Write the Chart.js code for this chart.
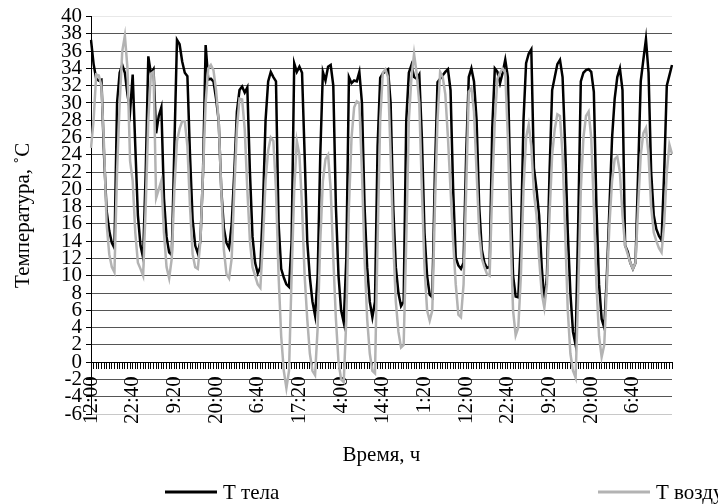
<!DOCTYPE html>
<html>
<head>
<meta charset="utf-8">
<script src="https://cdn.jsdelivr.net/npm/chart.js@4"></script>
<style>
  html, body { margin: 0; background: #fff; }
  #wrap { width: 718px; height: 504px; }
</style>
</head>
<body>
<div id="wrap"><canvas id="chart" width="718" height="504"></canvas></div>
<script>
// readings every 40 min, a tick label every 16th reading
const labelStep = 16;
const tickLabels = ['12:00', '22:40', '9:20', '20:00', '6:40', '17:20', '4:00',
  '14:40', '1:20', '12:00', '22:40', '9:20', '20:00', '6:40'];

const tBody = [
  37.3, 34.5, 32.8, 32.6, 32.7, 24, 17.5, 15.2, 13.8, 13.2,
  30, 33.5, 34.4, 33.5, 31, 29, 33.3, 25, 17, 13.5,
  12.1, 22, 35.4, 33.4, 33.9, 26.5, 28.5, 29.5, 19, 14.5,
  12.7, 12.4, 25, 37.3, 36.8, 34.8, 33.5, 33.1, 24, 16.5,
  13.5, 12.6, 14, 22, 36.7, 32.7, 32.8, 32.5, 30.5, 28,
  20, 15.5, 13.8, 13.2, 16, 22, 29, 31.5, 31.9, 31.2,
  31.8, 22, 14.5, 11.5, 10.3, 11, 18, 28, 32.5, 33.6,
  33, 32.5, 16, 10.8, 9.8, 9, 8.7, 14, 34.6, 33.6,
  34.2, 33.5, 24, 14, 9.8, 7, 5.4, 10, 24, 33.6,
  32.6, 34.2, 34.4, 32, 18, 10, 6, 4.6, 12, 33,
  32.3, 32.6, 32.5, 33.6, 30, 18, 11, 7, 5.2, 7,
  25, 32.9, 33.4, 33.7, 33.9, 30, 18, 11, 8, 6.5,
  7, 28, 33.5, 34.4, 33, 32.8, 33.3, 26, 15, 10,
  7.8, 7.5, 22, 32.4, 32.8, 33.2, 33.6, 33.9, 31.5, 20,
  12.1, 11.2, 10.8, 11.5, 24, 33, 34, 32.5, 28, 18,
  13, 11.5, 10.9, 11, 27, 34, 33.6, 32.3, 33.5, 35,
  33, 20, 10, 7.6, 7.5, 14, 28, 34.6, 35.7, 36.2,
  22.5, 20, 17, 11, 7, 10, 22, 31.5, 33, 34.5,
  35, 33, 25, 15, 8, 3.5, 2, 16, 32.5, 33.5,
  33.8, 33.9, 33.6, 31.3, 18, 9, 5, 4, 10, 18,
  26, 30.5, 33, 34, 31.5, 13.5, 12.8, 11.5, 10.8, 11.5,
  22, 32.5, 35, 37.4, 33.5, 22, 17, 15.4, 14.6, 14.1,
  22, 32, 33.2, 34.4
];

const tAir = [
  24.8, 28, 33.3, 33.2, 32, 25, 16, 12.5, 11, 10.4,
  22, 30, 36, 37.8, 34, 23.3, 21, 15, 11.5, 10.8,
  10, 18, 28, 33.4, 33.6, 19, 20, 21, 15, 11,
  9.7, 12, 20, 25.6, 27, 27.9, 27.9, 25, 18, 12.5,
  11, 10.8, 14, 22, 30, 34, 34.4, 33.8, 31.5, 28,
  20, 13, 10.2, 9.7, 12, 20, 27, 30.5, 30.4, 27,
  20, 14, 11, 10, 9, 8.6, 14, 21, 24.5, 26,
  25.6, 20, 10, 3, -1, -3, -1, 10, 20, 25.6,
  24, 18, 10, 5, 1, -1, -1.5, 4, 14, 21,
  23.5, 24, 20, 12, 5, 0, -2, -2.3, 5, 18,
  26, 29.5, 30.2, 30, 22, 12, 5, 1, -1, -1.3,
  14, 28, 33.5, 33.9, 33, 24, 14, 7, 3.5, 1.7,
  2, 14, 28, 33, 35.7, 33.4, 30, 20, 11, 6,
  4.8, 6, 18, 28, 33.6, 33, 31, 26, 20, 14,
  9, 5.5, 5.2, 9, 20, 31.3, 31.7, 29, 22, 15,
  12, 11, 10.2, 10, 20, 28, 32.8, 33.5, 34, 33.5,
  26, 15, 6, 3.1, 4, 10, 20, 26, 27.5, 25,
  19.6, 17, 12, 8, 6.3, 9, 17, 24, 27, 28.7,
  28.5, 24, 15, 6, 1, -1, -1.8, 8, 20, 26,
  28.5, 29, 26, 18, 9, 3, 0.6, 2, 9, 16,
  21, 23.5, 23.8, 22, 17, 13.5, 12.5, 11.5, 10.8, 11.5,
  18, 24, 26.5, 27.1, 24, 18, 15, 14, 13.2, 12.7,
  16, 22, 25.2, 24.1
];

const categories = tBody.map((v, i) => i);
const serif = 'Liberation Serif';

// x title and legend sit under the chart, legend runs off the right edge like the original
const bottomTexts = {
  id: 'bottomTexts',
  afterDraw(chart) {
    const { ctx, chartArea } = chart;
    ctx.save();
    ctx.font = '21px "' + serif + '"';
    ctx.fillStyle = '#000';
    ctx.textBaseline = 'middle';
    ctx.textAlign = 'center';
    ctx.fillText('Время, ч', (chartArea.left + chartArea.right) / 2, 455);
    ctx.textAlign = 'left';
    [[0, 165], [1, 598]].forEach(([k, x]) => {
      const ds = chart.data.datasets[k];
      ctx.strokeStyle = ds.borderColor;
      ctx.lineWidth = 3;
      ctx.beginPath();
      ctx.moveTo(x, 492);
      ctx.lineTo(x + 52, 492);
      ctx.stroke();
      ctx.fillText(ds.label, x + 58, 493);
    });
    ctx.restore();
  }
};

const ctx = document.getElementById('chart').getContext('2d');
const chart = new Chart(ctx, {
  type: 'line',
  data: {
    labels: categories,
    datasets: [
      { label: 'Т тела', data: tBody, borderColor: '#000', borderWidth: 2.5, pointRadius: 0, order: 1 },
      { label: 'Т воздуха', data: tAir, borderColor: '#b3b3b3', borderWidth: 2.5, pointRadius: 0, order: 0 }
    ]
  },
  options: {
    responsive: false,
    animation: false,
    devicePixelRatio: 1,
    layout: { padding: { top: 15, right: 46, bottom: 90, left: 0 } },
    plugins: { legend: { display: false }, tooltip: { enabled: false } },
    scales: {
      x: {
        position: { y: 0 },
        offset: false,
        grid: { drawOnChartArea: false, drawTicks: true, tickLength: 6, color: '#000' },
        border: { display: true, color: '#000', width: 1 },
        ticks: {
          autoSkip: false,
          minRotation: 90,
          maxRotation: 90,
          padding: 8,
          color: '#000',
          font: { family: serif, size: 21 },
          callback: (v, i) => (i % labelStep === 0 ? tickLabels[i / labelStep] : '')
        }
      },
      y: {
        min: -6,
        max: 40,
        ticks: { stepSize: 2, autoSkip: false, padding: 4, color: '#000', font: { family: serif, size: 21 } },
        grid: {
          color: c => (c.tick.value === 40 ? '#e8e8e8' : c.tick.value === -6 ? '#c8c8c8' : c.tick.value === 0 ? '#000' : '#555'),
          tickColor: '#000',
          tickLength: 5
        },
        border: { display: true, color: '#000' },
        title: {
          display: true,
          text: 'Температура, ˚С',
          color: '#000',
          font: { family: serif, size: 21 },
          padding: { top: 11, bottom: 0 }
        },
        afterFit: s => { s.width = 91; }
      }
    }
  },
  plugins: [bottomTexts]
});
</script>
</body>
</html>
